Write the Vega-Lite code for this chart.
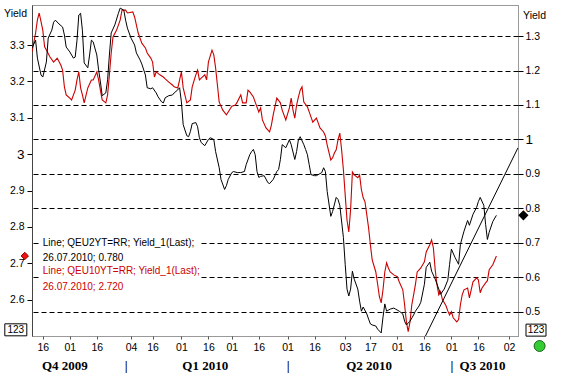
{
  "$schema": "https://vega.github.io/schema/vega-lite/v6.json",
  "width": 486,
  "height": 331,
  "autosize": {"type": "none"},
  "padding": {"left": 32, "top": 5, "right": 44, "bottom": 38},
  "background": "white",
  "config": {
    "view": {"stroke": "#333333", "strokeDash": [1, 1]},
    "font": "Liberation Sans",
    "axis": {"labelOverlap": false, "labelSeparation": 0, "labelFlush": false}
  },
  "datasets": {
    "red": [
      {"date":"2009-11-10","yield":3.281},{"date":"2009-11-12","yield":3.333},{"date":"2009-11-13","yield":3.369},{"date":"2009-11-14","yield":3.388},
      {"date":"2009-11-16","yield":3.341},{"date":"2009-11-17","yield":3.295},{"date":"2009-11-18","yield":3.286},{"date":"2009-11-20","yield":3.267},
      {"date":"2009-11-22","yield":3.253},{"date":"2009-11-24","yield":3.264},{"date":"2009-11-26","yield":3.245},{"date":"2009-11-27","yield":3.231},
      {"date":"2009-11-28","yield":3.185},{"date":"2009-11-29","yield":3.163},{"date":"2009-12-01","yield":3.154},{"date":"2009-12-02","yield":3.149},
      {"date":"2009-12-04","yield":3.176},{"date":"2009-12-05","yield":3.204},{"date":"2009-12-06","yield":3.226},{"date":"2009-12-07","yield":3.182},
      {"date":"2009-12-08","yield":3.163},{"date":"2009-12-09","yield":3.141},{"date":"2009-12-11","yield":3.182},{"date":"2009-12-13","yield":3.204},
      {"date":"2009-12-14","yield":3.204},{"date":"2009-12-16","yield":3.226},{"date":"2009-12-17","yield":3.204},{"date":"2009-12-18","yield":3.176},
      {"date":"2009-12-19","yield":3.149},{"date":"2009-12-21","yield":3.141},{"date":"2009-12-22","yield":3.163},{"date":"2009-12-23","yield":3.218},
      {"date":"2009-12-24","yield":3.278},{"date":"2009-12-25","yield":3.322},{"date":"2009-12-27","yield":3.341},{"date":"2009-12-29","yield":3.369},
      {"date":"2009-12-30","yield":3.396},{"date":"2010-01-01","yield":3.396},{"date":"2010-01-02","yield":3.388},{"date":"2010-01-05","yield":3.391},
      {"date":"2010-01-06","yield":3.377},{"date":"2010-01-08","yield":3.333},{"date":"2010-01-10","yield":3.305},{"date":"2010-01-12","yield":3.292},
      {"date":"2010-01-13","yield":3.278},{"date":"2010-01-15","yield":3.264},{"date":"2010-01-16","yield":3.253},{"date":"2010-01-17","yield":3.212},
      {"date":"2010-01-18","yield":3.226},{"date":"2010-01-20","yield":3.218},{"date":"2010-01-22","yield":3.212},{"date":"2010-01-23","yield":3.207},
      {"date":"2010-01-25","yield":3.198},{"date":"2010-01-27","yield":3.190},{"date":"2010-01-28","yield":3.185},{"date":"2010-01-30","yield":3.182},
      {"date":"2010-01-31","yield":3.204},{"date":"2010-02-01","yield":3.226},{"date":"2010-02-02","yield":3.182},{"date":"2010-02-04","yield":3.141},
      {"date":"2010-02-06","yield":3.149},{"date":"2010-02-07","yield":3.185},{"date":"2010-02-09","yield":3.218},{"date":"2010-02-10","yield":3.231},
      {"date":"2010-02-11","yield":3.204},{"date":"2010-02-12","yield":3.209},{"date":"2010-02-14","yield":3.218},{"date":"2010-02-15","yield":3.204},
      {"date":"2010-02-16","yield":3.253},{"date":"2010-02-18","yield":3.286},{"date":"2010-02-19","yield":3.273},{"date":"2010-02-20","yield":3.237},
      {"date":"2010-02-21","yield":3.190},{"date":"2010-02-22","yield":3.143},{"date":"2010-02-24","yield":3.121},{"date":"2010-02-26","yield":3.108},
      {"date":"2010-02-27","yield":3.116},{"date":"2010-03-01","yield":3.132},{"date":"2010-03-03","yield":3.135},{"date":"2010-03-04","yield":3.143},
      {"date":"2010-03-06","yield":3.163},{"date":"2010-03-07","yield":3.141},{"date":"2010-03-09","yield":3.141},{"date":"2010-03-10","yield":3.176},
      {"date":"2010-03-11","yield":3.171},{"date":"2010-03-13","yield":3.157},{"date":"2010-03-14","yield":3.143},{"date":"2010-03-16","yield":3.116},
      {"date":"2010-03-17","yield":3.127},{"date":"2010-03-18","yield":3.094},{"date":"2010-03-20","yield":3.072},{"date":"2010-03-22","yield":3.061},
      {"date":"2010-03-23","yield":3.080},{"date":"2010-03-24","yield":3.108},{"date":"2010-03-26","yield":3.154},{"date":"2010-03-28","yield":3.141},
      {"date":"2010-03-29","yield":3.121},{"date":"2010-03-31","yield":3.094},{"date":"2010-04-02","yield":3.127},{"date":"2010-04-03","yield":3.154},
      {"date":"2010-04-04","yield":3.121},{"date":"2010-04-05","yield":3.099},{"date":"2010-04-06","yield":3.135},{"date":"2010-04-07","yield":3.157},
      {"date":"2010-04-08","yield":3.176},{"date":"2010-04-09","yield":3.185},{"date":"2010-04-10","yield":3.143},{"date":"2010-04-12","yield":3.130},
      {"date":"2010-04-13","yield":3.116},{"date":"2010-04-15","yield":3.088},{"date":"2010-04-17","yield":3.099},{"date":"2010-04-18","yield":3.086},
      {"date":"2010-04-19","yield":3.072},{"date":"2010-04-21","yield":3.061},{"date":"2010-04-22","yield":3.050},{"date":"2010-04-23","yield":3.025},
      {"date":"2010-04-25","yield":2.984},{"date":"2010-04-26","yield":2.990},{"date":"2010-04-27","yield":3.003},{"date":"2010-04-28","yield":3.012},
      {"date":"2010-04-29","yield":3.039},{"date":"2010-04-30","yield":3.058},{"date":"2010-05-01","yield":3.012},{"date":"2010-05-02","yield":2.957},
      {"date":"2010-05-03","yield":2.888},{"date":"2010-05-04","yield":2.819},{"date":"2010-05-05","yield":2.786},{"date":"2010-05-06","yield":2.847},
      {"date":"2010-05-07","yield":2.951},{"date":"2010-05-08","yield":2.943},{"date":"2010-05-10","yield":2.935},{"date":"2010-05-11","yield":2.943},
      {"date":"2010-05-12","yield":2.902},{"date":"2010-05-13","yield":2.880},{"date":"2010-05-14","yield":2.869},{"date":"2010-05-15","yield":2.833},
      {"date":"2010-05-16","yield":2.797},{"date":"2010-05-17","yield":2.751},{"date":"2010-05-18","yield":2.709},{"date":"2010-05-20","yield":2.676},
      {"date":"2010-05-21","yield":2.643},{"date":"2010-05-22","yield":2.608},{"date":"2010-05-23","yield":2.591},{"date":"2010-05-24","yield":2.627},
      {"date":"2010-05-25","yield":2.676},{"date":"2010-05-26","yield":2.701},{"date":"2010-05-27","yield":2.687},{"date":"2010-05-28","yield":2.676},
      {"date":"2010-05-30","yield":2.668},{"date":"2010-06-01","yield":2.663},{"date":"2010-06-02","yield":2.649},{"date":"2010-06-04","yield":2.627},
      {"date":"2010-06-05","yield":2.586},{"date":"2010-06-06","yield":2.539},{"date":"2010-06-07","yield":2.512},{"date":"2010-06-08","yield":2.539},
      {"date":"2010-06-09","yield":2.586},{"date":"2010-06-10","yield":2.613},{"date":"2010-06-11","yield":2.641},{"date":"2010-06-12","yield":2.676},
      {"date":"2010-06-14","yield":2.687},{"date":"2010-06-16","yield":2.704},{"date":"2010-06-17","yield":2.731},{"date":"2010-06-19","yield":2.751},
      {"date":"2010-06-20","yield":2.764},{"date":"2010-06-21","yield":2.742},{"date":"2010-06-22","yield":2.682},{"date":"2010-06-23","yield":2.641},
      {"date":"2010-06-24","yield":2.613},{"date":"2010-06-25","yield":2.622},{"date":"2010-06-26","yield":2.600},{"date":"2010-06-28","yield":2.583},
      {"date":"2010-06-29","yield":2.569},{"date":"2010-06-30","yield":2.558},{"date":"2010-07-01","yield":2.567},{"date":"2010-07-02","yield":2.550},
      {"date":"2010-07-04","yield":2.539},{"date":"2010-07-05","yield":2.545},{"date":"2010-07-06","yield":2.586},{"date":"2010-07-07","yield":2.613},
      {"date":"2010-07-08","yield":2.627},{"date":"2010-07-10","yield":2.632},{"date":"2010-07-11","yield":2.605},{"date":"2010-07-13","yield":2.649},
      {"date":"2010-07-15","yield":2.660},{"date":"2010-07-16","yield":2.654},{"date":"2010-07-17","yield":2.619},{"date":"2010-07-18","yield":2.632},
      {"date":"2010-07-20","yield":2.646},{"date":"2010-07-21","yield":2.652},{"date":"2010-07-22","yield":2.682},{"date":"2010-07-24","yield":2.696},
      {"date":"2010-07-26","yield":2.720}
    ],
    "black": [
      {"date":"2009-11-10","yield":1.265},{"date":"2009-11-12","yield":1.288},{"date":"2009-11-13","yield":1.236},{"date":"2009-11-15","yield":1.187},
      {"date":"2009-11-16","yield":1.181},{"date":"2009-11-18","yield":1.225},{"date":"2009-11-19","yield":1.294},{"date":"2009-11-21","yield":1.317},
      {"date":"2009-11-22","yield":1.340},{"date":"2009-11-23","yield":1.346},{"date":"2009-11-25","yield":1.335},{"date":"2009-11-27","yield":1.326},
      {"date":"2009-11-28","yield":1.303},{"date":"2009-11-29","yield":1.268},{"date":"2009-12-01","yield":1.254},{"date":"2009-12-03","yield":1.236},
      {"date":"2009-12-04","yield":1.239},{"date":"2009-12-05","yield":1.288},{"date":"2009-12-06","yield":1.361},{"date":"2009-12-07","yield":1.366},
      {"date":"2009-12-08","yield":1.317},{"date":"2009-12-09","yield":1.222},{"date":"2009-12-11","yield":1.208},{"date":"2009-12-12","yield":1.245},
      {"date":"2009-12-13","yield":1.288},{"date":"2009-12-14","yield":1.283},{"date":"2009-12-16","yield":1.245},{"date":"2009-12-17","yield":1.202},
      {"date":"2009-12-18","yield":1.167},{"date":"2009-12-19","yield":1.127},{"date":"2009-12-21","yield":1.135},{"date":"2009-12-22","yield":1.173},
      {"date":"2009-12-23","yield":1.245},{"date":"2009-12-24","yield":1.309},{"date":"2009-12-26","yield":1.332},{"date":"2009-12-28","yield":1.366},
      {"date":"2009-12-29","yield":1.381},{"date":"2009-12-31","yield":1.375},{"date":"2010-01-01","yield":1.346},{"date":"2010-01-02","yield":1.323},
      {"date":"2010-01-04","yield":1.294},{"date":"2010-01-06","yield":1.274},{"date":"2010-01-07","yield":1.251},{"date":"2010-01-09","yield":1.231},
      {"date":"2010-01-10","yield":1.219},{"date":"2010-01-12","yield":1.187},{"date":"2010-01-13","yield":1.150},{"date":"2010-01-15","yield":1.147},
      {"date":"2010-01-16","yield":1.150},{"date":"2010-01-18","yield":1.135},{"date":"2010-01-19","yield":1.124},{"date":"2010-01-21","yield":1.109},
      {"date":"2010-01-22","yield":1.106},{"date":"2010-01-23","yield":1.121},{"date":"2010-01-25","yield":1.127},{"date":"2010-01-27","yield":1.129},
      {"date":"2010-01-28","yield":1.135},{"date":"2010-01-30","yield":1.144},{"date":"2010-01-31","yield":1.150},{"date":"2010-02-01","yield":1.109},
      {"date":"2010-02-02","yield":1.043},{"date":"2010-02-04","yield":1.011},{"date":"2010-02-05","yield":1.008},{"date":"2010-02-06","yield":1.023},
      {"date":"2010-02-07","yield":1.046},{"date":"2010-02-09","yield":1.049},{"date":"2010-02-10","yield":1.037},{"date":"2010-02-11","yield":1.005},
      {"date":"2010-02-12","yield":0.991},{"date":"2010-02-14","yield":0.982},{"date":"2010-02-16","yield":1.000},{"date":"2010-02-17","yield":1.005},
      {"date":"2010-02-19","yield":1.000},{"date":"2010-02-20","yield":0.965},{"date":"2010-02-22","yield":0.918},{"date":"2010-02-23","yield":0.884},
      {"date":"2010-02-25","yield":0.855},{"date":"2010-02-26","yield":0.866},{"date":"2010-02-27","yield":0.884},{"date":"2010-03-01","yield":0.904},
      {"date":"2010-03-02","yield":0.907},{"date":"2010-03-04","yield":0.904},{"date":"2010-03-06","yield":0.904},{"date":"2010-03-08","yield":0.907},
      {"date":"2010-03-09","yield":0.927},{"date":"2010-03-11","yield":0.956},{"date":"2010-03-12","yield":0.965},{"date":"2010-03-13","yield":0.971},
      {"date":"2010-03-14","yield":0.956},{"date":"2010-03-15","yield":0.907},{"date":"2010-03-16","yield":0.890},{"date":"2010-03-17","yield":0.893},
      {"date":"2010-03-19","yield":0.895},{"date":"2010-03-21","yield":0.875},{"date":"2010-03-22","yield":0.872},{"date":"2010-03-24","yield":0.884},
      {"date":"2010-03-26","yield":0.907},{"date":"2010-03-27","yield":0.913},{"date":"2010-03-28","yield":0.942},{"date":"2010-03-29","yield":0.985},
      {"date":"2010-03-31","yield":0.976},{"date":"2010-04-02","yield":0.999},{"date":"2010-04-03","yield":0.985},{"date":"2010-04-05","yield":0.942},
      {"date":"2010-04-06","yield":0.965},{"date":"2010-04-07","yield":0.999},{"date":"2010-04-08","yield":1.008},{"date":"2010-04-10","yield":0.985},
      {"date":"2010-04-11","yield":0.971},{"date":"2010-04-12","yield":0.956},{"date":"2010-04-13","yield":0.927},{"date":"2010-04-14","yield":0.898},
      {"date":"2010-04-16","yield":0.895},{"date":"2010-04-17","yield":0.895},{"date":"2010-04-20","yield":0.904},{"date":"2010-04-21","yield":0.918},
      {"date":"2010-04-22","yield":0.907},{"date":"2010-04-23","yield":0.849},{"date":"2010-04-25","yield":0.777},{"date":"2010-04-26","yield":0.791},
      {"date":"2010-04-28","yield":0.832},{"date":"2010-04-29","yield":0.826},{"date":"2010-04-30","yield":0.809},{"date":"2010-05-02","yield":0.716},
      {"date":"2010-05-03","yield":0.638},{"date":"2010-05-04","yield":0.566},{"date":"2010-05-05","yield":0.546},{"date":"2010-05-06","yield":0.566},
      {"date":"2010-05-07","yield":0.618},{"date":"2010-05-08","yield":0.595},{"date":"2010-05-10","yield":0.566},{"date":"2010-05-11","yield":0.531},
      {"date":"2010-05-12","yield":0.502},{"date":"2010-05-13","yield":0.514},{"date":"2010-05-15","yield":0.494},{"date":"2010-05-16","yield":0.479},
      {"date":"2010-05-17","yield":0.465},{"date":"2010-05-18","yield":0.462},{"date":"2010-05-20","yield":0.459},{"date":"2010-05-21","yield":0.450},
      {"date":"2010-05-23","yield":0.439},{"date":"2010-05-24","yield":0.485},{"date":"2010-05-25","yield":0.523},{"date":"2010-05-26","yield":0.502},
      {"date":"2010-05-28","yield":0.508},{"date":"2010-05-30","yield":0.511},{"date":"2010-05-31","yield":0.508},{"date":"2010-06-02","yield":0.502},
      {"date":"2010-06-04","yield":0.494},{"date":"2010-06-05","yield":0.473},{"date":"2010-06-06","yield":0.462},{"date":"2010-06-08","yield":0.473},
      {"date":"2010-06-10","yield":0.491},{"date":"2010-06-11","yield":0.502},{"date":"2010-06-13","yield":0.517},{"date":"2010-06-14","yield":0.528},
      {"date":"2010-06-16","yield":0.580},{"date":"2010-06-17","yield":0.629},{"date":"2010-06-19","yield":0.644},{"date":"2010-06-20","yield":0.618},
      {"date":"2010-06-22","yield":0.595},{"date":"2010-06-24","yield":0.566},{"date":"2010-06-25","yield":0.551},{"date":"2010-06-27","yield":0.566},
      {"date":"2010-06-29","yield":0.592},{"date":"2010-06-30","yield":0.638},{"date":"2010-07-01","yield":0.682},{"date":"2010-07-03","yield":0.658},
      {"date":"2010-07-05","yield":0.638},{"date":"2010-07-06","yield":0.696},{"date":"2010-07-08","yield":0.734},{"date":"2010-07-10","yield":0.765},
      {"date":"2010-07-11","yield":0.751},{"date":"2010-07-13","yield":0.783},{"date":"2010-07-15","yield":0.803},{"date":"2010-07-16","yield":0.820},
      {"date":"2010-07-17","yield":0.832},{"date":"2010-07-19","yield":0.809},{"date":"2010-07-20","yield":0.754},{"date":"2010-07-21","yield":0.710},
      {"date":"2010-07-22","yield":0.731},{"date":"2010-07-24","yield":0.762},{"date":"2010-07-26","yield":0.780}
    ],
    "legend": [
      {"date":"2009-11-16","yield":2.756,"series":"QEU2YT=RR","label":"Line; QEU2YT=RR; Yield_1(Last);"},
      {"date":"2009-11-16","yield":2.715,"series":"QEU2YT=RR","label":"26.07.2010; 0.780"},
      {"date":"2009-11-16","yield":2.679,"series":"QEU10YT=RR","label":"Line; QEU10YT=RR; Yield_1(Last);"},
      {"date":"2009-11-16","yield":2.635,"series":"QEU10YT=RR","label":"26.07.2010; 2.720"}
    ]
  },
  "layer": [
    {
      "layer": [
        {
          "data": {"name": "red"},
          "mark": {"type": "line", "color": "#cc0000", "strokeWidth": 1.1, "clip": true},
          "encoding": {
            "x": {
              "field": "date", "type": "temporal",
              "scale": {"domain": [{"year": 2009, "month": 11, "date": 10}, {"year": 2010, "month": 8, "date": 7}]},
              "axis": {
                "orient": "bottom",
                "values": [
                  {"year":2009,"month":11,"date":16},{"year":2009,"month":12,"date":1},{"year":2009,"month":12,"date":16},
                  {"year":2010,"month":1,"date":4},{"year":2010,"month":1,"date":16},{"year":2010,"month":2,"date":1},
                  {"year":2010,"month":2,"date":16},{"year":2010,"month":3,"date":1},{"year":2010,"month":3,"date":16},
                  {"year":2010,"month":4,"date":1},{"year":2010,"month":4,"date":16},{"year":2010,"month":5,"date":3},
                  {"year":2010,"month":5,"date":17},{"year":2010,"month":6,"date":1},{"year":2010,"month":6,"date":16},
                  {"year":2010,"month":7,"date":1},{"year":2010,"month":7,"date":16},{"year":2010,"month":8,"date":2}
                ],
                "tickCount": 40,
                "format": "%d",
                "title": null,
                "domain": false,
                "grid": false,
                "tickSize": 3,
                "tickColor": "#555555",
                "labelPadding": 3,
                "labelFont": "Liberation Sans",
                "labelFontSize": 10.5,
                "labelColor": "#000000",
                "labelOverlap": false,
                "labelFlush": false
              }
            },
            "y": {
              "field": "yield", "type": "quantitative",
              "scale": {"domain": [2.5, 3.41], "nice": false, "zero": false},
              "axis": {
                "orient": "left",
                "values": [2.6, 2.7, 2.8, 2.9, 3, 3.1, 3.2, 3.3],
                "tickCount": 20,
                "format": "~g",
                "grid": false,
                "domain": true,
                "domainColor": "#444444",
                "tickSize": 5,
                "tickColor": "#000000",
                "labelPadding": 3,
                "labelFont": "Liberation Sans",
                "labelColor": "#000000",
                "labelFontSize": {"condition": {"test": "datum.value == 3", "value": 13.5}, "value": 10.5},
                "title": "Yield",
                "titleAngle": 0,
                "titleX": -17,
                "titleY": 8,
                "titleAlign": "center",
                "titleBaseline": "middle",
                "titleFont": "Liberation Sans",
                "titleFontWeight": "normal",
                "titleFontSize": 10.5,
                "titleColor": "#000000"
              }
            }
          }
        },
        {
          "data": {"values": [{"start": "2009-11-15", "end": "2010-02-11", "low": 2.622, "high": 2.772}]},
          "mark": {"type": "rect", "color": "#ffffff", "opacity": 1, "clip": true},
          "encoding": {
            "x": {"field": "start", "type": "temporal"},
            "x2": {"field": "end"},
            "y": {"field": "low", "type": "quantitative"},
            "y2": {"field": "high"}
          }
        },
        {
          "data": {"name": "legend"},
          "mark": {"type": "text", "align": "left", "baseline": "middle", "font": "Liberation Sans", "fontSize": 10, "clip": false},
          "encoding": {
            "x": {"field": "date", "type": "temporal"},
            "y": {"field": "yield", "type": "quantitative"},
            "text": {"field": "label"},
            "color": {"field": "series", "type": "nominal", "scale": {"domain": ["QEU2YT=RR", "QEU10YT=RR"], "range": ["#000000", "#cc0000"]}, "legend": null}
          }
        },
        {
          "data": {"values": [{"date": "2009-11-06", "yield": 2.72}]},
          "mark": {"type": "point", "shape": "diamond", "filled": true, "fill": "#ee1111", "stroke": "#880000", "strokeWidth": 1, "size": 55, "opacity": 1, "clip": false},
          "encoding": {
            "x": {"field": "date", "type": "temporal"},
            "y": {"field": "yield", "type": "quantitative"}
          }
        },
        {
          "data": {"values": [{"date": "2009-11-01", "yield": 2.517, "label": "123"}]},
          "mark": {"type": "point", "shape": "M-1.1,-0.6L1.1,-0.6L1.1,0.6L-1.1,0.6Z", "filled": false, "stroke": "#000000", "strokeWidth": 1, "size": 400, "opacity": 1, "clip": false},
          "encoding": {
            "x": {"field": "date", "type": "temporal"},
            "y": {"field": "yield", "type": "quantitative"}
          }
        },
        {
          "data": {"values": [{"date": "2009-11-01", "yield": 2.517, "label": "123"}]},
          "mark": {"type": "text", "align": "center", "baseline": "middle", "font": "Liberation Sans", "fontSize": 10, "color": "#000000", "clip": false},
          "encoding": {
            "x": {"field": "date", "type": "temporal"},
            "y": {"field": "yield", "type": "quantitative"},
            "text": {"field": "label"}
          }
        }
      ]
    },
    {
      "layer": [
        {
          "data": {"name": "black"},
          "mark": {"type": "line", "color": "#000000", "strokeWidth": 1, "clip": true},
          "encoding": {
            "x": {
              "field": "date", "type": "temporal",
              "axis": {
                "orient": "bottom",
                "values": [
                  {"year":2009,"month":11,"date":28},{"year":2010,"month":1,"date":1},{"year":2010,"month":2,"date":14},
                  {"year":2010,"month":4,"date":1},{"year":2010,"month":5,"date":16},{"year":2010,"month":7,"date":1},
                  {"year":2010,"month":7,"date":18}
                ],
                "tickCount": 40,
                "labelExpr": "month(datum.value) == 10 ? 'Q4 2009' : month(datum.value) == 1 ? 'Q1 2010' : month(datum.value) == 4 ? 'Q2 2010' : (month(datum.value) == 6 && date(datum.value) > 10) ? 'Q3 2010' : '|'",
                "offset": 24,
                "title": null,
                "domain": false,
                "grid": false,
                "ticks": false,
                "labelFont": "Liberation Serif",
                "labelFontWeight": "bold",
                "labelFontSize": 13,
                "labelColor": "#000000",
                "labelBaseline": "middle",
                "labelPadding": 5,
                "labelOverlap": false,
                "labelFlush": false
              }
            },
            "y": {
              "field": "yield", "type": "quantitative",
              "scale": {"domain": [0.43, 1.39], "nice": false, "zero": false},
              "axis": {
                "orient": "right",
                "values": [0.5, 0.6, 0.7, 0.8, 0.9, 1, 1.1, 1.2, 1.3],
                "tickCount": 20,
                "format": "~g",
                "grid": true,
                "gridColor": "#000000",
                "gridDash": [5, 3],
                "gridWidth": 1,
                "domain": false,
                "tickSize": 5,
                "tickColor": "#000000",
                "labelPadding": 2,
                "labelFont": "Liberation Sans",
                "labelColor": "#000000",
                "labelFontSize": {"condition": {"test": "datum.value == 1", "value": 13.5}, "value": 10.5},
                "title": "Yield",
                "titleAngle": 0,
                "titleX": 16,
                "titleY": 10,
                "titleAlign": "center",
                "titleBaseline": "middle",
                "titleFont": "Liberation Sans",
                "titleFontWeight": "normal",
                "titleFontSize": 10.5,
                "titleColor": "#000000"
              }
            }
          }
        },
        {
          "data": {"values": [{"date": "2010-06-15", "yield": 0.413}, {"date": "2010-08-07", "yield": 0.976}]},
          "mark": {"type": "line", "color": "#000000", "strokeWidth": 1, "clip": true},
          "encoding": {
            "x": {"field": "date", "type": "temporal"},
            "y": {"field": "yield", "type": "quantitative"}
          }
        },
        {
          "data": {"values": [{"date": "2010-08-10", "yield": 0.78}]},
          "mark": {"type": "point", "shape": "diamond", "filled": true, "fill": "#000000", "stroke": "#000000", "size": 55, "opacity": 1, "clip": false},
          "encoding": {
            "x": {"field": "date", "type": "temporal"},
            "y": {"field": "yield", "type": "quantitative"}
          }
        },
        {
          "data": {"values": [{"date": "2010-08-17", "yield": 0.447, "label": "123"}]},
          "mark": {"type": "point", "shape": "M-1,-0.6L1,-0.6L1,0.6L-1,0.6Z", "filled": false, "stroke": "#000000", "strokeWidth": 1, "size": 400, "opacity": 1, "clip": false},
          "encoding": {
            "x": {"field": "date", "type": "temporal"},
            "y": {"field": "yield", "type": "quantitative"}
          }
        },
        {
          "data": {"values": [{"date": "2010-08-17", "yield": 0.447, "label": "123"}]},
          "mark": {"type": "text", "align": "center", "baseline": "middle", "font": "Liberation Sans", "fontSize": 10, "color": "#000000", "clip": false},
          "encoding": {
            "x": {"field": "date", "type": "temporal"},
            "y": {"field": "yield", "type": "quantitative"},
            "text": {"field": "label"}
          }
        },
        {
          "data": {"values": [{"date": "2010-08-19", "yield": 0.401}]},
          "mark": {"type": "point", "shape": "circle", "filled": true, "fill": "#33cc33", "stroke": "#1a661a", "strokeWidth": 1, "size": 120, "opacity": 1, "clip": false},
          "encoding": {
            "x": {"field": "date", "type": "temporal"},
            "y": {"field": "yield", "type": "quantitative"}
          }
        }
      ]
    }
  ],
  "resolve": {"scale": {"y": "independent"}, "axis": {"x": "independent"}}
}
